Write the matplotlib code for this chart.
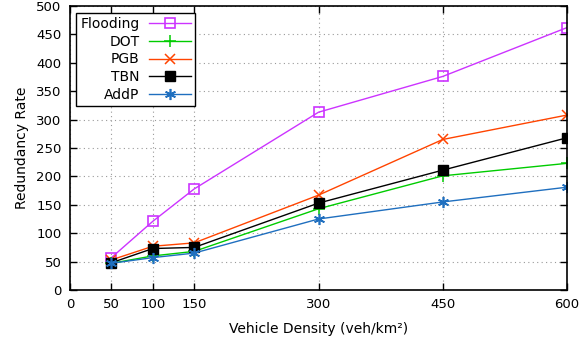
import matplotlib
matplotlib.use("Agg")
import matplotlib.pyplot as plt

density = [50, 100, 150, 300, 450, 600]
flooding = [57, 121, 178, 313, 376, 462]
dot = [47, 60, 68, 143, 201, 223]
pgb = [53, 77, 83, 167, 265, 308]
tbn = [48, 73, 75, 153, 211, 268]
addp = [47, 57, 65, 125, 155, 181]

x_ticks = [0, 50, 100, 150, 300, 450, 600]
y_ticks = list(range(0, 501, 50))

plt.rcParams['font.family'] = ['DejaVu Sans']
plt.rcParams['font.size'] = 9.5

fig = plt.figure(figsize=(5.87, 3.49), dpi=100)
ax = fig.add_axes([70 / 587, 1 - 290 / 349, 497 / 587, 284 / 349])

series = [
    ("Flooding", flooding, "#cc33ff", dict(marker="s", markersize=7, markerfacecolor="none", markeredgewidth=1.2)),
    ("DOT", dot, "#00cc00", dict(marker="+", markersize=8, markeredgewidth=1.1)),
    ("PGB", pgb, "#ff4400", dict(marker="x", markersize=7, markeredgewidth=1.1)),
    ("TBN", tbn, "#000000", dict(marker="s", markersize=7.5, markerfacecolor="#000000", markeredgewidth=1.0)),
    ("AddP", addp, "#1f6fbf", dict(marker=(6, 2, 0), markersize=8, markeredgewidth=1.2)),
]

for label, vals, color, style in series:
    ax.plot(density, vals, color=color, linewidth=1.0, label=label, **style)

ax.set_xlim(0, 600)
ax.set_ylim(0, 500)
ax.set_xticks(x_ticks)
ax.set_yticks(y_ticks)
ax.tick_params(direction="in", top=True, right=True, length=5, width=1, pad=6)
for s in ax.spines.values():
    s.set_linewidth(1.2)

ax.grid(True, linestyle=(0, (1, 3)), color="#999999", linewidth=0.8)
ax.set_axisbelow(True)

ax.set_xlabel("Vehicle Density (veh/km\u00b2)", fontsize=10, labelpad=8)
ax.set_ylabel("Redundancy Rate", fontsize=10, labelpad=5)

leg = ax.legend(loc="upper left", bbox_to_anchor=(0.012, 0.975), markerfirst=False,
                frameon=True, fancybox=False, edgecolor="black", framealpha=1,
                handlelength=3.0, labelspacing=0.26, borderpad=0.3,
                handletextpad=0.7, borderaxespad=0, fontsize=10)
leg.get_frame().set_linewidth(1.0)

fig.savefig("out.png", dpi=100)
